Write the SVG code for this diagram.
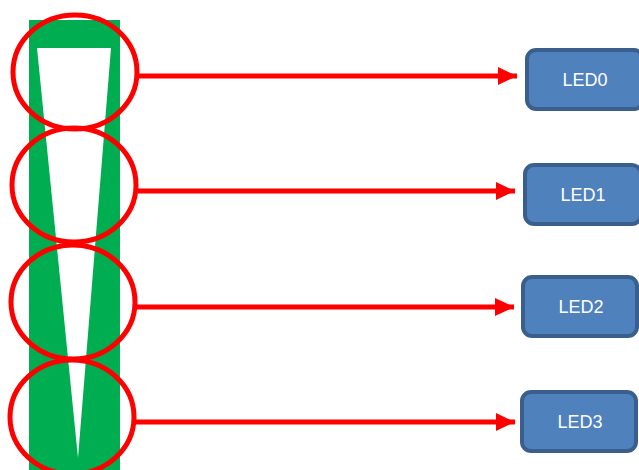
<svg xmlns="http://www.w3.org/2000/svg" width="639" height="470" viewBox="0 0 639 470">
<defs>
<style>
.ring{fill:none;stroke:#FF0000;stroke-width:5}
.conn{stroke:#FF0000;stroke-width:5;fill:none}
.box{fill:#4F81BD;stroke:#3A5F8D;stroke-width:4}
.lbl{font-family:"Liberation Sans",Arial,sans-serif;font-size:18px;fill:#FFFFFF;text-anchor:middle}
</style>
<marker id="ah" markerUnits="userSpaceOnUse" markerWidth="20" markerHeight="18" refX="19" refY="9" orient="auto">
<path d="M0,0 L19,9 L0,18 Z" fill="#FF0000"/>
</marker>
</defs>
<g id="bar">
<rect x="29" y="20" width="91" height="450" fill="#00AD50"/>
<polygon points="37,48 111,48 78,458" fill="#FFFFFF"/>
</g>
<g id="rings">
<ellipse class="ring" cx="75" cy="72" rx="62" ry="57"/>
<ellipse class="ring" cx="74" cy="185" rx="62" ry="57"/>
<ellipse class="ring" cx="73" cy="302" rx="62" ry="57"/>
<ellipse class="ring" cx="72" cy="417" rx="62" ry="57"/>
</g>
<g id="connectors">
<line class="conn" x1="137" y1="76" x2="517" y2="76" marker-end="url(#ah)"/>
<line class="conn" x1="136" y1="191" x2="515" y2="191" marker-end="url(#ah)"/>
<line class="conn" x1="135" y1="307" x2="514" y2="307" marker-end="url(#ah)"/>
<line class="conn" x1="134" y1="422" x2="515" y2="422" marker-end="url(#ah)"/>
</g>
<g id="led0">
<rect class="box" x="527" y="50" width="116" height="59" rx="9"/>
<text class="lbl" x="585" y="86">LED0</text>
</g>
<g id="led1">
<rect class="box" x="525" y="165" width="116" height="59" rx="9"/>
<text class="lbl" x="583" y="201">LED1</text>
</g>
<g id="led2">
<rect class="box" x="523" y="277" width="114" height="59" rx="9"/>
<text class="lbl" x="581" y="313">LED2</text>
</g>
<g id="led3">
<rect class="box" x="522" y="392" width="114" height="59" rx="9"/>
<text class="lbl" x="580" y="428">LED3</text>
</g>
</svg>
